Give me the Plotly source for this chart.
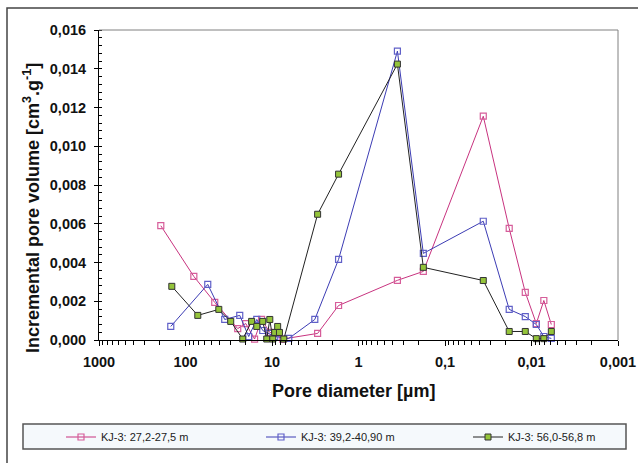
import plotly.graph_objects as go

# ---- data ----
pink_name = "KJ-3: 27,2-27,5 m"
pink_d = [193, 80.1, 45.9, 24.9, 20.1, 15.9, 13.2, 10.6, 9.1, 7.5, 2.97, 1.70, 0.355, 0.178,
          0.0361, 0.0181, 0.0118, 0.0088, 0.0072, 0.0059]
pink_v = [0.0059, 0.00328, 0.00194, 0.00059, 0.00085, 0.00005, 0.00106, 0.00039, 0.00034, 0.00005,
          0.00034, 0.00178, 0.00308, 0.00354, 0.01155, 0.00576, 0.00246, 0.00085, 0.00204, 0.0008]

blue_name = "KJ-3: 39,2-40,90 m"
blue_d = [148, 55.3, 35.2, 23.6, 18.6, 15.0, 12.8, 10.9, 9.3, 6.4, 3.2, 1.70, 0.355, 0.178,
          0.0361, 0.0181, 0.0118, 0.0088, 0.0072, 0.0059]
blue_v = [0.0007, 0.00287, 0.00106, 0.00127, 0.00018, 0.00106, 0.00049, 0.00034, 0.00018, 0.00008,
          0.00106, 0.00416, 0.01491, 0.00447, 0.00613, 0.00158, 0.00121, 0.0008, 0.00018, 0.00008]

green_name = "KJ-3: 56,0-56,8 m"
green_d = [144, 72.1, 41.2, 30.0, 21.8, 17.2, 15.0, 12.8, 11.5, 10.6, 9.8, 9.3, 8.6, 8.2, 7.3,
           2.97, 1.70, 0.355, 0.178, 0.0361, 0.0181, 0.0118, 0.0088, 0.0072, 0.0059]
green_v = [0.00277, 0.00127, 0.00158, 0.00096, 0.00005, 0.00096, 0.0007, 0.00096, 0.00005, 0.00106,
           0.00005, 0.00039, 0.0007, 0.00039, 0.00005, 0.00649, 0.00856, 0.01424, 0.00375, 0.00307,
           0.00044, 0.00044, 0.00007, 0.00007, 0.00044]

x_tickvals = [1000, 100, 10, 1, 0.1, 0.01, 0.001]
x_ticktext = ["1000", "100", "10", "1", "0,1", "0,01", "0,001"]

x_title = "Pore diameter [µm]"
y_title = "Incremental pore volume [cm<sup>3</sup>.g<sup>-1</sup>]"

# ---- geometry helpers (pixel -> paper) ----
W, H = 638, 463
ML, MR, MT, MB = 99, 20, 30, 123
PW, PH = W - ML - MR, H - MT - MB


def px(x):
    return (x - ML) / PW


def py(y):
    return (H - MB - y) / PH


FONT = "Liberation Sans, Arial, sans-serif"

fig = go.Figure()
fig.add_trace(go.Scatter(
    x=pink_d, y=pink_v, name=pink_name, mode="lines+markers", legend="legend",
    line=dict(color="#c8337f", width=1),
    marker=dict(symbol="square-open", size=6, color="#d65d9a", line=dict(width=1.2)),
    cliponaxis=False))
fig.add_trace(go.Scatter(
    x=blue_d, y=blue_v, name=blue_name, mode="lines+markers", legend="legend2",
    line=dict(color="#3c3cb4", width=1),
    marker=dict(symbol="square-open", size=6, color="#6060c8", line=dict(width=1.2)),
    cliponaxis=False))
fig.add_trace(go.Scatter(
    x=green_d, y=green_v, name=green_name, mode="lines+markers", legend="legend3",
    line=dict(color="#222222", width=1),
    marker=dict(symbol="square", size=6, color="#94c43a", line=dict(color="#333333", width=1)),
    cliponaxis=False))

minor_x = [k * 10 ** e for e in range(-3, 3) for k in range(2, 10)]

fig.update_xaxes(
    type="log", range=[3, -3],
    tickvals=x_tickvals, ticktext=x_ticktext,
    ticks="outside", ticklen=5, tickcolor="black", tickwidth=1,
    minor=dict(tickvals=minor_x, ticks="outside", ticklen=4, tickcolor="black", tickwidth=1),
    showline=True, linecolor="black", linewidth=1, showgrid=False, zeroline=False,
    tickfont=dict(family=FONT, size=14.5, color="#111", weight="bold"),
    ticklabelstandoff=4,
)
fig.update_yaxes(
    range=[0, 0.016], dtick=0.002, tickformat=".3f",
    ticks="outside", ticklen=4, tickcolor="black", tickwidth=1,
    minor=dict(dtick=0.0004, ticks="inside", ticklen=3, tickcolor="black", tickwidth=1),
    showline=True, linecolor="black", linewidth=1, showgrid=False, zeroline=False,
    tickfont=dict(family=FONT, size=14.5, color="#111", weight="bold"),
    ticklabelstandoff=5,
)

shapes = [
    # outer frame
    dict(type="rect", xref="paper", yref="paper", x0=px(7), x1=px(645), y0=py(475), y1=py(8),
         line=dict(color="#444444", width=1.5), layer="below"),
    # plot area border (top & right)
    dict(type="line", xref="paper", yref="paper", x0=0, x1=1, y0=1, y1=1,
         line=dict(color="#808080", width=1)),
    dict(type="line", xref="paper", yref="paper", x0=1, x1=1, y0=0, y1=1,
         line=dict(color="#808080", width=1)),
    # legend box
    dict(type="rect", xref="paper", yref="paper", x0=px(23), x1=px(626), y0=py(449), y1=py(424),
         line=dict(color="#555555", width=1.5), fillcolor="#f5f9fc", layer="below"),
]


def leg(xpix):
    return dict(orientation="h", x=px(xpix), y=py(437), xanchor="left", yanchor="middle",
                bgcolor="rgba(0,0,0,0)", borderwidth=0,
                font=dict(family=FONT, size=11, color="#222"))


fig.update_layout(
    width=W, height=H,
    margin=dict(l=ML, r=MR, t=MT, b=MB, autoexpand=False),
    paper_bgcolor="white", plot_bgcolor="white",
    separators=",.",
    shapes=shapes,
    showlegend=True,
    legend=leg(61), legend2=leg(261), legend3=leg(468),
    annotations=[
        dict(text=y_title, xref="paper", yref="paper", x=px(31), y=py(208), textangle=-90,
             showarrow=False, xanchor="center", yanchor="middle",
             font=dict(family=FONT, size=18, color="#111", weight="bold")),
        dict(text=x_title, xref="paper", yref="paper", x=px(353), y=py(391),
             showarrow=False, xanchor="center", yanchor="middle",
             font=dict(family=FONT, size=18, color="#111", weight="bold")),
    ],
)

fig.write_html("out.html")
